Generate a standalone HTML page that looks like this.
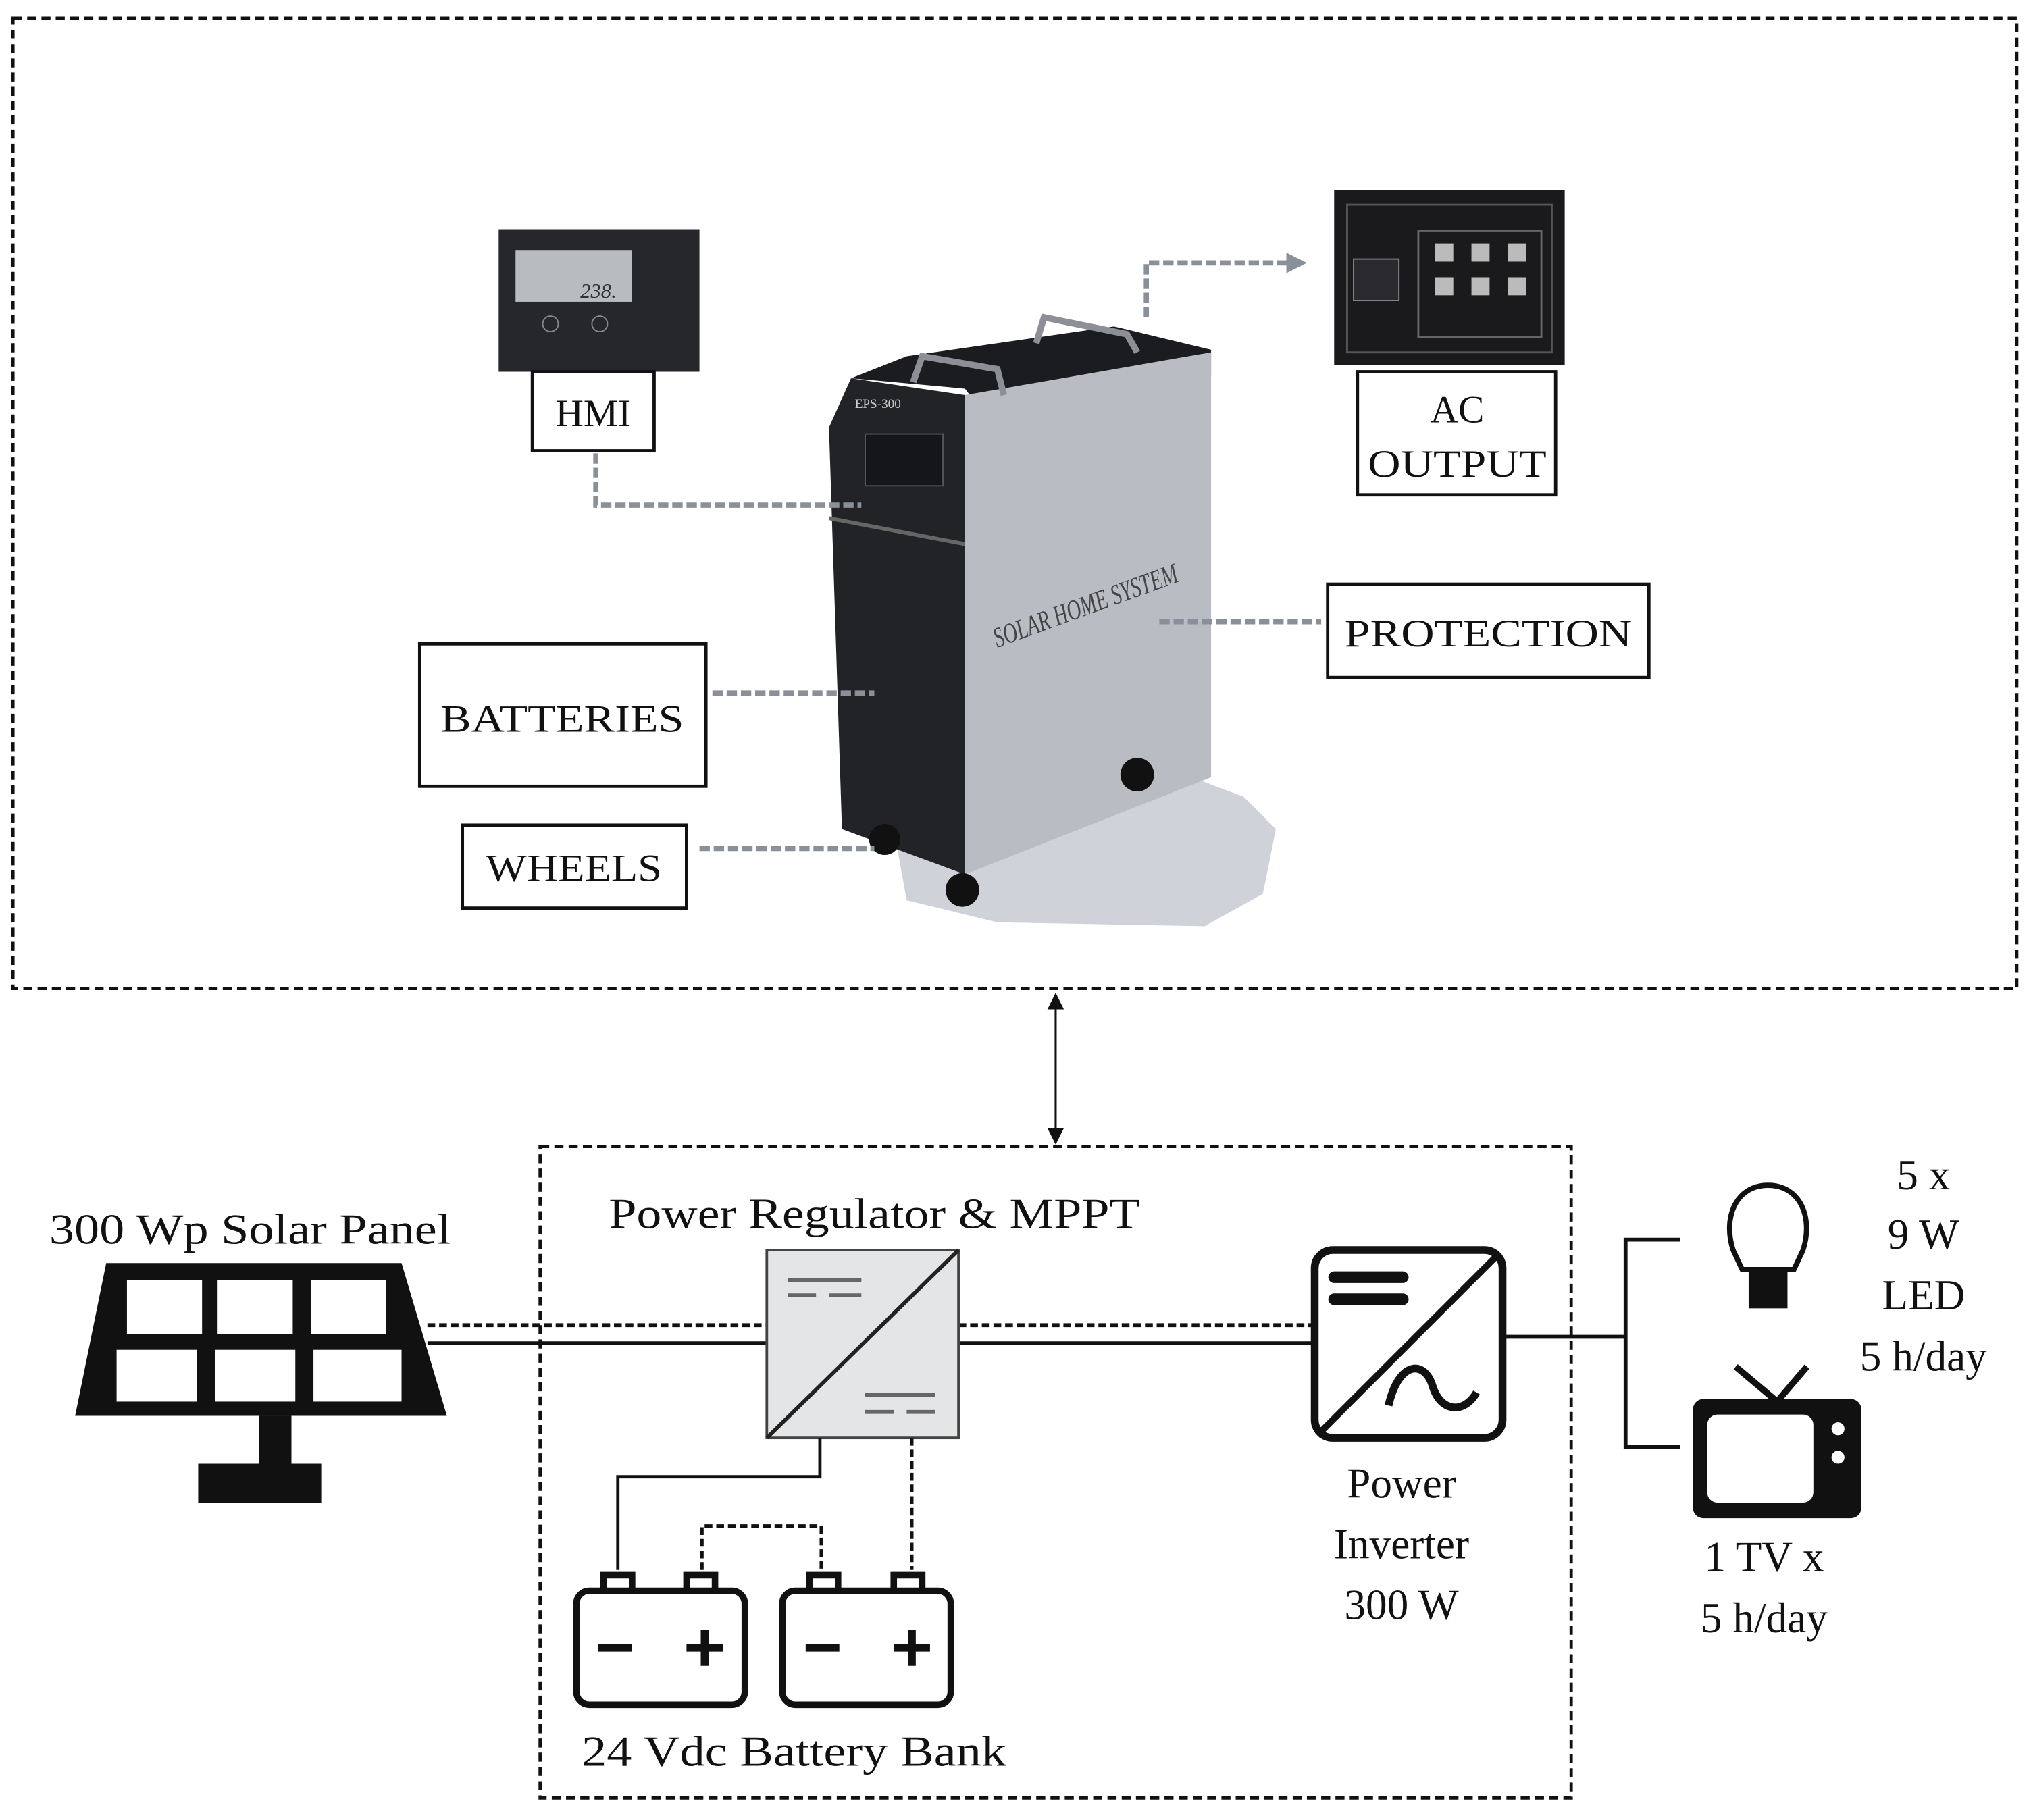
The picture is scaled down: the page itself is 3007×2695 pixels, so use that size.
<!DOCTYPE html>
<html><head><meta charset="utf-8"><style>html,body{margin:0;padding:0;background:#fff}svg{display:block}text{font-family:"Liberation Serif",serif;fill:#111}</style></head><body>
<svg width="3007" height="2695" viewBox="0 0 1568 1405" preserveAspectRatio="none" xmlns="http://www.w3.org/2000/svg">
<defs><marker id="ah" markerWidth="8" markerHeight="8" refX="7" refY="4" orient="auto"><path d="M0,0 L8,4 L0,8 z" fill="#111"/></marker>
<marker id="ahs" markerWidth="8" markerHeight="8" refX="1" refY="4" orient="auto"><path d="M8,0 L0,4 L8,8 z" fill="#111"/></marker>
<marker id="ag" markerWidth="4" markerHeight="4" refX="3" refY="2" orient="auto"><path d="M0,0 L4,2 L0,4 z" fill="#8a9099"/></marker></defs>
<rect x="10" y="14" width="1547" height="749" fill="none" stroke="#111" stroke-width="2.5" stroke-dasharray="7,4"/>
<line x1="815" y1="768" x2="815" y2="882" stroke="#111" stroke-width="1.6" marker-start="url(#ahs)" marker-end="url(#ah)"/>
<rect x="417" y="885" width="796" height="503" fill="none" stroke="#111" stroke-width="2.5" stroke-dasharray="7,4"/>
<!-- cabinet -->
<path d="M690,640 L880,585 L960,615 L985,640 L975,690 L930,715 L770,712 L700,695 Z" fill="#cfd2d8"/>
<path d="M657,292 L700,275 L860,252 L935,270 L935,290 L760,320 L745,300 Z" fill="#1b1c20"/>
<path d="M657,292 L745,305 L745,675 L650,640 L640,330 Z" fill="#222327"/>
<path d="M745,305 L935,272 L935,600 L745,675 Z" fill="#b9bcc2"/>
<rect x="668" y="335" width="60" height="40" fill="#15161a" stroke="#555" stroke-width="1"/>
<line x1="640" y1="400" x2="745" y2="420" stroke="#666" stroke-width="3"/>
<path d="M705,295 L712,275 L770,285 L775,305" fill="none" stroke="#8c8f96" stroke-width="5"/>
<path d="M800,265 L806,245 L870,258 L878,272" fill="none" stroke="#8c8f96" stroke-width="5"/>
<text x="660" y="315" font-size="10" fill="#ccc" style="fill:#ccc" font-family="Liberation Sans">EPS-300</text>
<text x="770" y="500" font-size="22" font-style="italic" font-family="Liberation Sans" transform="rotate(-20 770 500)" style="fill:#444" textLength="150" lengthAdjust="spacingAndGlyphs">SOLAR HOME SYSTEM</text>
<circle cx="878" cy="598" r="13" fill="#111"/><circle cx="743" cy="687" r="13" fill="#111"/><circle cx="683" cy="648" r="12" fill="#111"/>
<!-- HMI device -->
<rect x="385" y="177" width="155" height="110" fill="#26272b"/>
<rect x="398" y="193" width="90" height="40" fill="#b8bcc0"/>
<text x="448" y="230" font-size="16" font-style="italic" font-family="Liberation Sans" style="fill:#333">238.</text>
<circle cx="425" cy="250" r="6" fill="none" stroke="#888"/><circle cx="463" cy="250" r="6" fill="none" stroke="#888"/>
<!-- AC output device -->
<rect x="1030" y="147" width="178" height="135" fill="#1a1a1d"/>
<rect x="1040" y="158" width="158" height="114" fill="none" stroke="#555" stroke-width="1.5"/>
<rect x="1045" y="200" width="35" height="32" fill="#2a2a2e" stroke="#888"/>
<rect x="1095" y="178" width="95" height="82" fill="none" stroke="#666" stroke-width="1.5"/>
<g fill="#bbb"><rect x="1108" y="188" width="14" height="14"/><rect x="1136" y="188" width="14" height="14"/><rect x="1164" y="188" width="14" height="14"/><rect x="1108" y="214" width="14" height="14"/><rect x="1136" y="214" width="14" height="14"/><rect x="1164" y="214" width="14" height="14"/></g>
<!-- grey dashed leaders -->
<g fill="none" stroke="#8a9099" stroke-width="4" stroke-dasharray="8,3">
<path d="M460,350 L460,390 L665,390"/>
<path d="M885,245 L885,203 L1005,203" marker-end="url(#ag)"/>
<path d="M895,480 L1020,480"/>
<path d="M550,535 L675,535"/>
<path d="M540,655 L675,655"/>
</g>
<!-- label boxes -->
<g fill="#fff" stroke="#111" stroke-width="2.5">
<rect x="411" y="287" width="94" height="61"/>
<rect x="1048" y="287" width="153" height="95"/>
<rect x="1025" y="451" width="248" height="72"/>
<rect x="324" y="497" width="221" height="110"/>
<rect x="357" y="637" width="173" height="64"/>
</g>
<g font-size="30" text-anchor="middle">
<text x="458" y="329">HMI</text>
<text x="1125" y="326">AC</text><text x="1125" y="368" textLength="138" lengthAdjust="spacingAndGlyphs">OUTPUT</text>
<text x="1149" y="499" textLength="222" lengthAdjust="spacingAndGlyphs">PROTECTION</text>
<text x="434" y="565" textLength="188" lengthAdjust="spacingAndGlyphs">BATTERIES</text>
<text x="443" y="680" textLength="136" lengthAdjust="spacingAndGlyphs">WHEELS</text>
</g>
<!-- bottom lines -->
<line x1="330" y1="1037" x2="1015" y2="1037" stroke="#111" stroke-width="3"/>
<line x1="330" y1="1023" x2="592" y2="1023" stroke="#111" stroke-width="3" stroke-dasharray="6,3"/>
<line x1="740" y1="1023" x2="1013" y2="1023" stroke="#111" stroke-width="3" stroke-dasharray="6,3"/>
<!-- solar panel -->
<path d="M82,975 L310,975 L345,1093 L58,1093 Z" fill="#111"/>
<g fill="#fff"><rect x="98" y="988" width="58" height="42"/><rect x="168" y="988" width="58" height="42"/><rect x="240" y="988" width="58" height="42"/>
<rect x="90" y="1042" width="62" height="40"/><rect x="166" y="1042" width="62" height="40"/><rect x="242" y="1042" width="68" height="40"/></g>
<rect x="200" y="1093" width="25" height="38" fill="#111"/><rect x="153" y="1130" width="95" height="30" fill="#111"/>
<text x="38" y="960" font-size="33" textLength="310" lengthAdjust="spacingAndGlyphs">300 Wp  Solar Panel</text>
<!-- regulator -->
<rect x="592" y="965" width="148" height="145" fill="#e4e5e7" stroke="#444" stroke-width="2"/>
<line x1="740" y1="965" x2="592" y2="1110" stroke="#222" stroke-width="3"/>
<g stroke="#666" stroke-width="3"><line x1="608" y1="988" x2="665" y2="988"/><line x1="608" y1="1000" x2="630" y2="1000"/><line x1="640" y1="1000" x2="665" y2="1000"/>
<line x1="668" y1="1077" x2="722" y2="1077"/><line x1="668" y1="1090" x2="690" y2="1090"/><line x1="700" y1="1090" x2="722" y2="1090"/></g>
<text x="470" y="948" font-size="33" textLength="410" lengthAdjust="spacingAndGlyphs">Power Regulator &amp; MPPT</text>
<!-- battery wires -->
<path d="M633,1110 L633,1140 L477,1140 L477,1212" fill="none" stroke="#111" stroke-width="2.5"/>
<path d="M704,1110 L704,1212" fill="none" stroke="#111" stroke-width="2.5" stroke-dasharray="6,3"/>
<path d="M542,1212 L542,1178 L634,1178 L634,1212" fill="none" stroke="#111" stroke-width="2.5" stroke-dasharray="6,3"/>
<g fill="none" stroke="#111" stroke-width="5">
<rect x="445" y="1228" width="130" height="88" rx="10"/><rect x="604" y="1228" width="130" height="88" rx="10"/>
<path d="M466,1228 v-12 h22 v12 M530,1228 v-12 h22 v12 M625,1228 v-12 h22 v12 M690,1228 v-12 h22 v12"/>
</g>
<g stroke="#111" stroke-width="6"><line x1="462" y1="1272" x2="488" y2="1272"/><line x1="530" y1="1272" x2="558" y2="1272"/><line x1="544" y1="1258" x2="544" y2="1286"/>
<line x1="622" y1="1272" x2="648" y2="1272"/><line x1="690" y1="1272" x2="718" y2="1272"/><line x1="704" y1="1258" x2="704" y2="1286"/></g>
<text x="449" y="1363" font-size="33" textLength="328" lengthAdjust="spacingAndGlyphs">24 Vdc Battery Bank</text>
<!-- inverter -->
<rect x="1015" y="965" width="145" height="145" rx="14" fill="#fff" stroke="#111" stroke-width="6"/>
<line x1="1158" y1="967" x2="1017" y2="1108" stroke="#111" stroke-width="5"/>
<g stroke="#111" stroke-width="9" stroke-linecap="round"><line x1="1030" y1="986" x2="1083" y2="986"/><line x1="1030" y1="1003" x2="1083" y2="1003"/></g>
<path d="M1072,1085 C1080,1050 1100,1050 1106,1070 C1112,1090 1130,1092 1140,1075" fill="none" stroke="#111" stroke-width="6"/>
<g font-size="33" text-anchor="middle"><text x="1082" y="1156">Power</text><text x="1082" y="1203">Inverter</text><text x="1082" y="1250">300 W</text></g>
<!-- loads -->
<path d="M1160,1032 L1255,1032 M1297,957 L1255,957 L1255,1117 L1297,1117" fill="none" stroke="#111" stroke-width="3"/>
<path d="M1338,965 C1330,940 1340,915 1365,915 C1390,915 1400,940 1392,965 L1385,980 L1345,980 Z" fill="#fff" stroke="#111" stroke-width="4"/>
<rect x="1350" y="982" width="30" height="28" fill="#111"/>
<path d="M1340,1055 L1372,1082 L1395,1055" fill="none" stroke="#111" stroke-width="5"/>
<rect x="1307" y="1080" width="130" height="92" rx="8" fill="#111"/>
<rect x="1318" y="1092" width="82" height="68" rx="8" fill="#fff"/>
<circle cx="1419" cy="1103" r="5" fill="#fff"/><circle cx="1419" cy="1125" r="5" fill="#fff"/>
<g font-size="33" text-anchor="middle"><text x="1485" y="918">5 x</text><text x="1485" y="964">9 W</text><text x="1485" y="1011">LED</text><text x="1485" y="1058">5 h/day</text>
<text x="1362" y="1213">1 TV x</text><text x="1362" y="1260">5 h/day</text></g>
</svg>
</body></html>
